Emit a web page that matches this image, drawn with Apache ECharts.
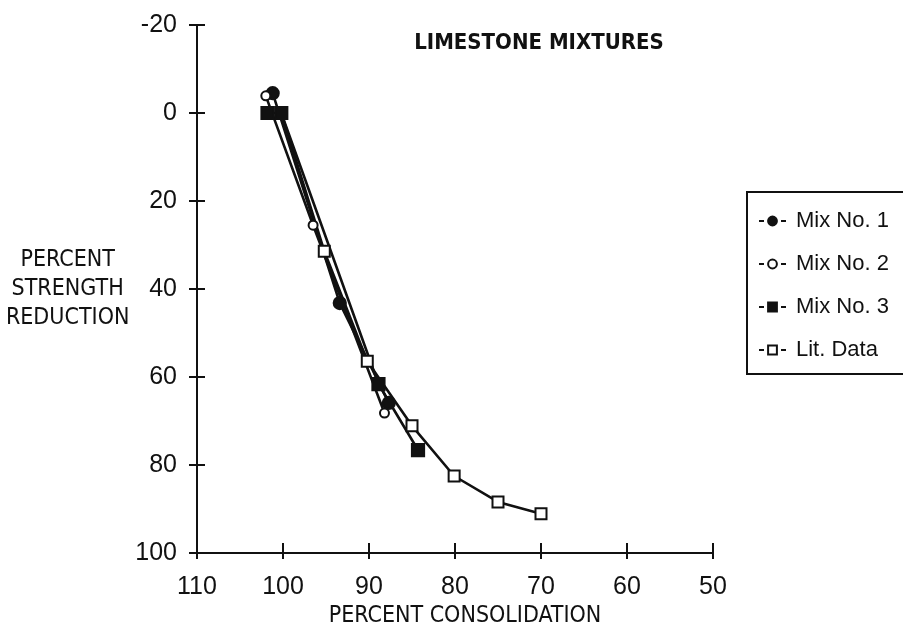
<!DOCTYPE html>
<html>
<head>
<meta charset="utf-8">
<script src="https://cdn.jsdelivr.net/npm/echarts@6/dist/echarts.min.js"></script>
<style>
  html, body { margin: 0; padding: 0; background: #ffffff; }
  #chart { width: 903px; height: 627px; }
</style>
</head>
<body>
<div id="chart"></div>
<script>
// Percent strength reduction vs. percent consolidation, limestone mixtures
const chartTitle = 'LIMESTONE MIXTURES';
const xAxisName = 'PERCENT CONSOLIDATION';
const yAxisName = 'PERCENT\nSTRENGTH\nREDUCTION';

const seriesNames = ['Mix No. 1', 'Mix No. 2', 'Mix No. 3', 'Lit. Data'];

// [percent consolidation, percent strength reduction]
const mix1 = [[101.2, -4.5], [93.4, 43.2], [87.7, 65.9]];
const mix2 = [[102.0, -3.9], [96.5, 25.5], [88.2, 68.2]];
const mix3 = [[101.8, 0], [100.2, 0], [88.9, 61.6], [84.3, 76.6]];
const litData = [[100.2, 0], [95.2, 31.4], [90.2, 56.4], [85.0, 71.1], [80.1, 82.5], [75.0, 88.4], [70.0, 91.1]];

const xMin = 50, xMax = 110, xStep = 10;
const yMin = -20, yMax = 100, yStep = 20;

const ink = '#111111';
const narrowFont = '"Liberation Sans Narrow", "DejaVu Sans Condensed", "Liberation Sans", sans-serif';
const plainFont = '"Liberation Sans", Arial, sans-serif';

const chart = echarts.init(document.getElementById('chart'), null, { renderer: 'canvas' });

function lineSeries(name, data, symbol, size) {
  return {
    name: name,
    type: 'line',
    data: data,
    symbol: symbol,
    symbolSize: size,
    showAllSymbol: true,
    lineStyle: { color: ink, width: 2.6 },
    itemStyle: { color: ink, borderColor: ink, borderWidth: 2.2 },
    emphasis: { disabled: true },
    animation: false
  };
}

const option = {
  backgroundColor: '#ffffff',
  animation: false,
  title: {
    text: chartTitle,
    left: 534,
    top: 27,
    textAlign: 'center',
    textStyle: { fontFamily: narrowFont, fontWeight: 'bold', fontSize: 22, color: ink }
  },
  legend: {
    orient: 'vertical',
    left: 747,
    top: 192,
    padding: [18, 40, 13, 11],
    borderColor: ink,
    borderWidth: 2,
    itemWidth: 27,
    itemHeight: 11,
    itemGap: 21,
    data: seriesNames,
    lineStyle: { type: [5, 17], width: 2 },
    textStyle: { fontFamily: plainFont, fontSize: 22, lineHeight: 21, color: ink, padding: [0, 0, 0, 5] }
  },
  grid: { left: 197, right: 190, top: 25, bottom: 74, containLabel: false, outerBoundsMode: 'none' },
  xAxis: [
    {
      type: 'value', min: xMin, max: xMax, interval: xStep, inverse: true, position: 'bottom',
      name: xAxisName, nameLocation: 'middle', nameGap: 46,
      nameTextStyle: { fontFamily: narrowFont, fontSize: 23, color: ink, padding: [0, 0, 0, 20] },
      axisLine: { onZero: false, lineStyle: { color: ink, width: 2 } },
      axisTick: { show: true, inside: false, length: 6, lineStyle: { color: ink, width: 2 } },
      axisLabel: { margin: 22, fontFamily: plainFont, fontSize: 25, color: ink },
      splitLine: { show: false }
    },
    {
      type: 'value', min: xMin, max: xMax, interval: xStep, inverse: true, position: 'bottom',
      axisLine: { show: false, onZero: false },
      axisTick: { show: true, inside: true, length: 10, lineStyle: { color: ink, width: 2 } },
      axisLabel: { show: false },
      splitLine: { show: false }
    }
  ],
  yAxis: [
    {
      type: 'value', min: yMin, max: yMax, interval: yStep, inverse: true, position: 'left',
      name: yAxisName, nameLocation: 'middle', nameRotate: 0, nameGap: 126,
      nameTextStyle: { fontFamily: narrowFont, fontSize: 23, lineHeight: 29, color: ink, align: 'center', verticalAlign: 'middle' },
      axisLine: { onZero: false, lineStyle: { color: ink, width: 2 } },
      axisTick: { show: true, inside: false, length: 8, lineStyle: { color: ink, width: 2 } },
      axisLabel: { margin: 20, fontFamily: plainFont, fontSize: 25, color: ink },
      splitLine: { show: false }
    },
    {
      type: 'value', min: yMin, max: yMax, interval: yStep, inverse: true, position: 'left',
      axisLine: { show: false, onZero: false },
      axisTick: { show: true, inside: true, length: 8, lineStyle: { color: ink, width: 2 } },
      axisLabel: { show: false },
      splitLine: { show: false }
    }
  ],
  series: [
    lineSeries(seriesNames[3], litData, 'emptyRect', 11),
    lineSeries(seriesNames[0], mix1, 'circle', 12),
    lineSeries(seriesNames[1], mix2, 'emptyCircle', 9),
    lineSeries(seriesNames[2], mix3, 'rect', 12)
  ]
};

chart.setOption(option);
</script>
</body>
</html>
